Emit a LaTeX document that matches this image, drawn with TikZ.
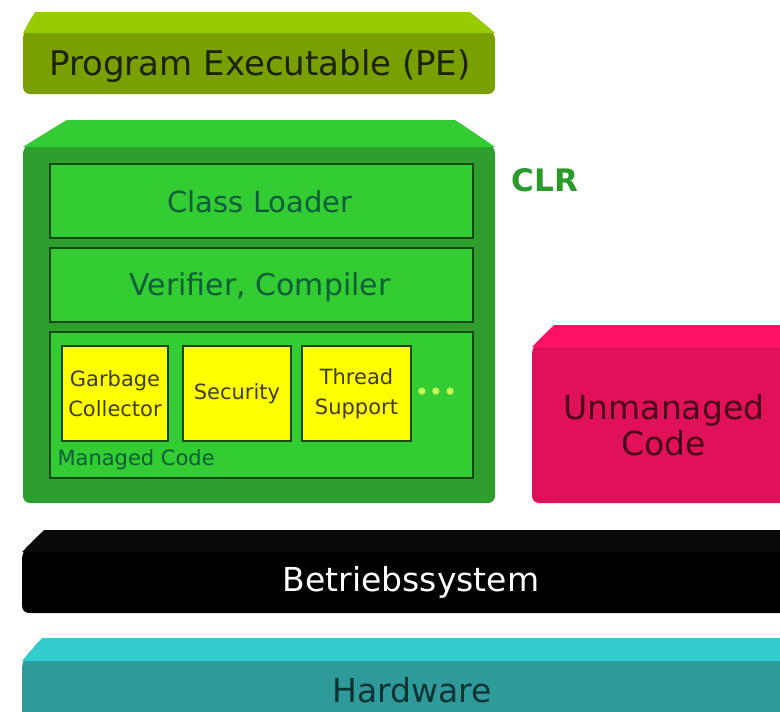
\documentclass[tikz,border=0pt]{standalone}
\usepackage{fontspec}
\setmainfont{DejaVu Sans}
\definecolor{peTop}{HTML}{99CC00}
\definecolor{peBody}{HTML}{7AA000}
\definecolor{peText}{HTML}{1A2400}
\definecolor{clrTop}{HTML}{33CC33}
\definecolor{clrBody}{HTML}{2E9E2E}
\definecolor{layerFill}{HTML}{33CC33}
\definecolor{layerLine}{HTML}{124A12}
\definecolor{layerText}{HTML}{0A5E3A}
\definecolor{svcFill}{HTML}{FFFF00}
\definecolor{svcText}{HTML}{3E3E00}
\definecolor{dotCol}{HTML}{CCFF55}
\definecolor{clrLabel}{HTML}{2A9A2A}
\definecolor{umTop}{HTML}{FF1166}
\definecolor{umBody}{HTML}{E0105A}
\definecolor{umText}{HTML}{4A0018}
\definecolor{osTop}{HTML}{0A0A0A}
\definecolor{hwTop}{HTML}{33CCCC}
\definecolor{hwBody}{HTML}{2E9A9A}
\definecolor{hwText}{HTML}{0A3434}

% bevelled slab: left x, top y, right x, bottom y, top-face height,
% left and right chamfer width, top colour, body colour
\newcommand{\bevelslab}[9]{%
  \fill[#9, rounded corners=7pt]
    (#1+#6,#2) -- (#3-#7,#2) -- (#3,#2+#5) -- (#3,#4) -- (#1,#4)
    -- (#1,#2+#5) -- cycle;
  \fill[#8]
    (#1+#6,#2) -- (#3-#7,#2) -- (#3,#2+#5) -- (#1,#2+#5) -- cycle;
}

\tikzset{
  layerbox/.style={draw=layerLine, line width=1.6pt, fill=layerFill},
  svcbox/.style={draw=layerLine, line width=1.4pt, fill=svcFill,
    inner sep=0pt, align=center, text=svcText,
    font=\fontsize{21}{30}\selectfont},
  bigtext/.style={font=\fontsize{33}{36}\selectfont},
}

\begin{document}
\begin{tikzpicture}[x=1pt, y=-1pt]
\useasboundingbox (0,0) rectangle (780,712);
\clip (0,0) rectangle (780,712);
\fill[white] (0,0) rectangle (780,712);

% Program Executable slab
\bevelslab{23}{12}{495}{94}{21}{12}{25}{peTop}{peBody}
\node[text=peText, font=\fontsize{34}{36}\selectfont] (pe) at (260,66) {Program Executable (PE)};

% CLR container
\bevelslab{23}{120}{495}{503}{27}{44}{40}{clrTop}{clrBody}
\node[font=\bfseries\fontsize{31}{34}\selectfont, text=clrLabel, anchor=west] (clr) at (508,180) {CLR};

% layers inside the CLR
\draw[layerbox] (50,164) rectangle (473,238);
\node[text=layerText, font=\fontsize{29}{32}\selectfont] (loader) at (260,202) {Class Loader};
\draw[layerbox] (50,248) rectangle (473,322);
\node[text=layerText, font=\fontsize{30}{34}\selectfont] (verifier) at (260,287) {Verifier, Compiler};
\draw[layerbox] (50,332) rectangle (473,478);
\node[font=\fontsize{21}{24}\selectfont, text=layerText, anchor=west] (managed) at (54,460) {Managed Code};

% runtime services
\node[svcbox, minimum width=106pt, minimum height=95pt] (gc) at (115,393.5) {Garbage\\Collector};
\node[svcbox, minimum width=108pt, minimum height=95pt] (sec) at (237,393.5) {Security};
\node[svcbox, minimum width=109pt, minimum height=95pt] (thr) at (356.5,393.5) {Thread\\Support};
\node[font=\fontsize{24}{24}\selectfont, text=dotCol] (more) at (436,394) {•••};

% unmanaged code
\bevelslab{532}{325}{800}{503}{22}{22}{20}{umTop}{umBody}
\node[bigtext, text=umText, align=center] (unmanaged) at (664,425) {Unmanaged\\Code};

% operating system
\bevelslab{22}{530}{800}{613}{22}{22}{20}{osTop}{black}
\node[bigtext, text=white] (os) at (411,582) {Betriebssystem};

% hardware
\bevelslab{22}{638}{800}{760}{23}{20}{20}{hwTop}{hwBody}
\node[bigtext, text=hwText] (hw) at (412,690) {Hardware};
\end{tikzpicture}
\end{document}
